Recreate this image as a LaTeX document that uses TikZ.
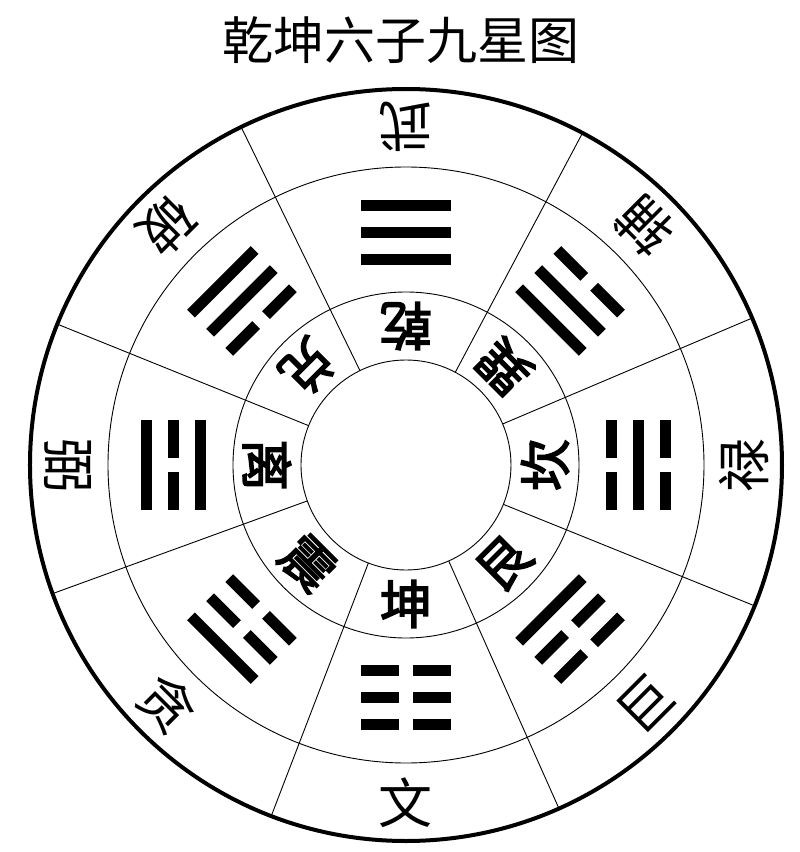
\documentclass[tikz,border=0pt]{standalone}
\usepackage{fontspec}
\usepackage{tikz}
\newfontfamily\cjk{Noto Sans CJK SC}
\newfontfamily\cjkb[FakeBold=3]{Noto Sans CJK SC}

\newcommand{\gua}[4]{%
  \begin{scope}[rotate=#1-90]
    \foreach \v [count=\i] in {#2,#3,#4} {
      \pgfmathsetmacro{\yy}{259-27*(\i-1)}
      \ifnum\v=1
        \fill (-45,\yy-5.5) rectangle (45,\yy+5.5);
      \else
        \fill (-45,\yy-5.5) rectangle (-7,\yy+5.5);
        \fill (7,\yy-5.5) rectangle (45,\yy+5.5);
      \fi
    }
  \end{scope}}

\begin{document}
\begin{tikzpicture}[x=1pt,y=1pt,
  title/.style={font=\cjk\fontsize{51}{51}\selectfont,inner sep=0pt},
  gualabel/.style={font=\cjkb\fontsize{52}{52}\selectfont,inner sep=0pt},
  xinglabel/.style={font=\cjk\fontsize{54}{54}\selectfont,inner sep=0pt},
  ring/.style={line width=0.9pt}]
\useasboundingbox (-406,-387) rectangle (394,465);
\fill[white] (-406,-387) rectangle (394,465);
\node[title] (biaoti) at (-5,425) {乾坤六子九星图};
\draw[line width=4pt] (0,0) circle (376);
\foreach \r in {105,173,298} \draw[ring] (0,0) circle (\r);
\foreach \a in {23,62,116,158,200,249,294,338} \draw[ring] (\a:105) -- (\a:376);
\foreach \a/\g/\x [count=\k] in {90/乾/武,135/兑/破,180/离/弼,225/震/贪,270/坤/文,315/艮/巨,0/坎/禄,45/巽/辅} {
  \node[gualabel,rotate=\a+90] (gua\k) at (\a:139) {\g};
  \node[xinglabel,rotate=\a+90] (xing\k) at (\a:338) {\x};
}
\foreach \a/\p/\q/\s in {90/1/1/1,135/1/1/0,180/1/0/1,225/1/0/0,270/0/0/0,315/0/0/1,0/0/1/0,45/0/1/1}
  {\gua{\a}{\p}{\q}{\s}}
\end{tikzpicture}
\end{document}
